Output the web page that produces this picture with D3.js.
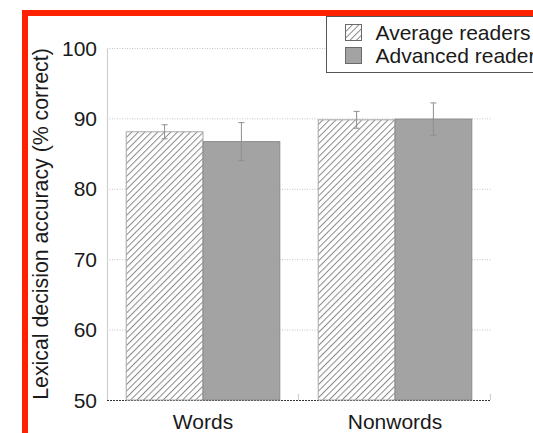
<!DOCTYPE html>
<html>
<head>
<meta charset="utf-8">
<script src="https://cdn.jsdelivr.net/npm/d3@7"></script>
<style>
  html, body { margin: 0; padding: 0; background: #fff; overflow: hidden; }
  svg { display: block; font-family: "Liberation Sans", Arial, Helvetica, sans-serif; }
</style>
</head>
<body>
<svg id="chart" width="533" height="433"></svg>
<script>
// Lexical decision accuracy by item type and reader group
const categories = ["Words", "Nonwords"];
const groups = ["Average readers", "Advanced readers"];
const averageMeans = [88.1, 89.8];
const averageErrors = [1.0, 1.2];
const advancedMeans = [86.7, 89.9];
const advancedErrors = [2.7, 2.3];
const yTicks = [50, 60, 70, 80, 90, 100];
const yTitle = "Lexical decision accuracy (% correct)";

const rows = categories.map((c, i) => ({
  category: c,
  bars: [
    { group: groups[0], mean: averageMeans[i], err: averageErrors[i] },
    { group: groups[1], mean: advancedMeans[i], err: advancedErrors[i] }
  ]
}));

const svg = d3.select("#chart");
const plot = { left: 107, right: 491, top: 48, bottom: 400 };
const fontSize = 21;

const x = d3.scaleBand().domain(categories).range([plot.left, plot.right]).padding(0);
const xInner = d3.scaleBand().domain(groups).range([0, x.bandwidth()])
  .paddingInner(0).paddingOuter(0.25);
const y = d3.scaleLinear().domain([50, 100]).range([plot.bottom, plot.top]);

// hatch pattern for the average-readers bars
const hatchGap = 4.6;
const defs = svg.append("defs");
const pat = defs.append("pattern")
  .attr("id", "hatch")
  .attr("patternUnits", "userSpaceOnUse")
  .attr("width", hatchGap).attr("height", hatchGap)
  .attr("patternTransform", "rotate(45)");
pat.append("rect").attr("width", hatchGap).attr("height", hatchGap).attr("fill", "#fff");
pat.append("line")
  .attr("x1", 0.5).attr("y1", 0).attr("x2", 0.5).attr("y2", hatchGap)
  .attr("stroke", "#8a8a8a").attr("stroke-width", 1);

const fills = { [groups[0]]: "url(#hatch)", [groups[1]]: "#a3a3a3" };
const strokes = { [groups[0]]: "#a8a8a8", [groups[1]]: "#8a8a8a" };

// gridlines
svg.append("g")
  .selectAll("line")
  .data(yTicks.filter(t => t > 50))
  .join("line")
  .attr("x1", plot.left).attr("x2", plot.right)
  .attr("y1", d => y(d) + 0.5).attr("y2", d => y(d) + 0.5)
  .attr("stroke", "#c4c4c4").attr("stroke-width", 1)
  .attr("stroke-dasharray", "1,1.5");

// y axis line
svg.append("line")
  .attr("x1", plot.left + 0.5).attr("x2", plot.left + 0.5)
  .attr("y1", plot.top).attr("y2", plot.bottom)
  .attr("stroke", "#cfcfcf").attr("stroke-width", 1.2);

// y tick labels
svg.append("g")
  .selectAll("text")
  .data(yTicks)
  .join("text")
  .attr("x", plot.left - 10)
  .attr("y", d => y(d))
  .attr("dy", "0.36em")
  .attr("text-anchor", "end")
  .attr("font-size", fontSize)
  .attr("fill", "#1a1a1a")
  .text(d => d);

// y axis title
svg.append("text")
  .attr("transform", `translate(48,${(plot.top + plot.bottom) / 2}) rotate(-90)`)
  .attr("text-anchor", "middle")
  .attr("font-size", 21.3)
  .attr("fill", "#1a1a1a")
  .text(yTitle);

// baseline
svg.append("line")
  .attr("x1", plot.left).attr("x2", plot.right)
  .attr("y1", plot.bottom + 0.5).attr("y2", plot.bottom + 0.5)
  .attr("stroke", "#333").attr("stroke-width", 1)
  .attr("stroke-dasharray", "2,1");

// category boundary ticks
const bounds = categories.map(c => x(c) + x.bandwidth());
svg.append("g")
  .selectAll("line")
  .data(bounds)
  .join("line")
  .attr("x1", d => d - 0.5).attr("x2", d => d - 0.5)
  .attr("y1", plot.bottom - 6).attr("y2", plot.bottom)
  .attr("stroke", "#d0d0d0").attr("stroke-width", 1.2);

// bars
const cat = svg.append("g")
  .selectAll("g")
  .data(rows)
  .join("g")
  .attr("transform", d => `translate(${x(d.category)},0)`);

cat.selectAll("rect")
  .data(d => d.bars)
  .join("rect")
  .attr("x", d => xInner(d.group))
  .attr("y", d => y(d.mean))
  .attr("width", xInner.bandwidth())
  .attr("height", d => y(50) - y(d.mean))
  .attr("fill", d => fills[d.group])
  .attr("stroke", d => strokes[d.group])
  .attr("stroke-width", 1);

// error bars
const eb = cat.selectAll("g.err")
  .data(d => d.bars)
  .join("g")
  .attr("class", "err")
  .attr("stroke", "#8f8f8f")
  .attr("stroke-width", 1);
const cx = d => xInner(d.group) + xInner.bandwidth() / 2;
eb.append("line")
  .attr("x1", cx).attr("x2", cx)
  .attr("y1", d => y(d.mean + d.err)).attr("y2", d => y(d.mean - d.err));
eb.append("line")
  .attr("x1", d => cx(d) - 3).attr("x2", d => cx(d) + 3)
  .attr("y1", d => y(d.mean + d.err)).attr("y2", d => y(d.mean + d.err));
eb.append("line")
  .attr("x1", d => cx(d) - 3).attr("x2", d => cx(d) + 3)
  .attr("y1", d => y(d.mean - d.err)).attr("y2", d => y(d.mean - d.err));

// category labels
svg.append("g")
  .selectAll("text")
  .data(categories)
  .join("text")
  .attr("x", d => x(d) + x.bandwidth() / 2)
  .attr("y", plot.bottom + 29)
  .attr("text-anchor", "middle")
  .attr("font-size", fontSize)
  .attr("fill", "#1a1a1a")
  .text(d => d);

// legend (extends past the right edge of the page)
const legend = svg.append("g").attr("transform", "translate(326.5,16.5)");
legend.append("rect")
  .attr("width", 260).attr("height", 56)
  .attr("fill", "#fff").attr("stroke", "#555").attr("stroke-width", 1);
const li = legend.selectAll("g.item")
  .data(groups)
  .join("g")
  .attr("class", "item")
  .attr("transform", (d, i) => `translate(19,${8 + i * 23})`);
li.append("rect")
  .attr("width", 16).attr("height", 16)
  .attr("fill", d => fills[d])
  .attr("stroke", "#6a6a6a").attr("stroke-width", 1);
li.append("text")
  .attr("x", 30).attr("y", 15.5)
  .attr("font-size", fontSize)
  .attr("fill", "#1a1a1a")
  .text(d => d);

// outer frame
svg.append("rect")
  .attr("x", 25).attr("y", 13)
  .attr("width", 600).attr("height", 500)
  .attr("fill", "none")
  .attr("stroke", "#ff2200")
  .attr("stroke-width", 6);
</script>
</body>
</html>
